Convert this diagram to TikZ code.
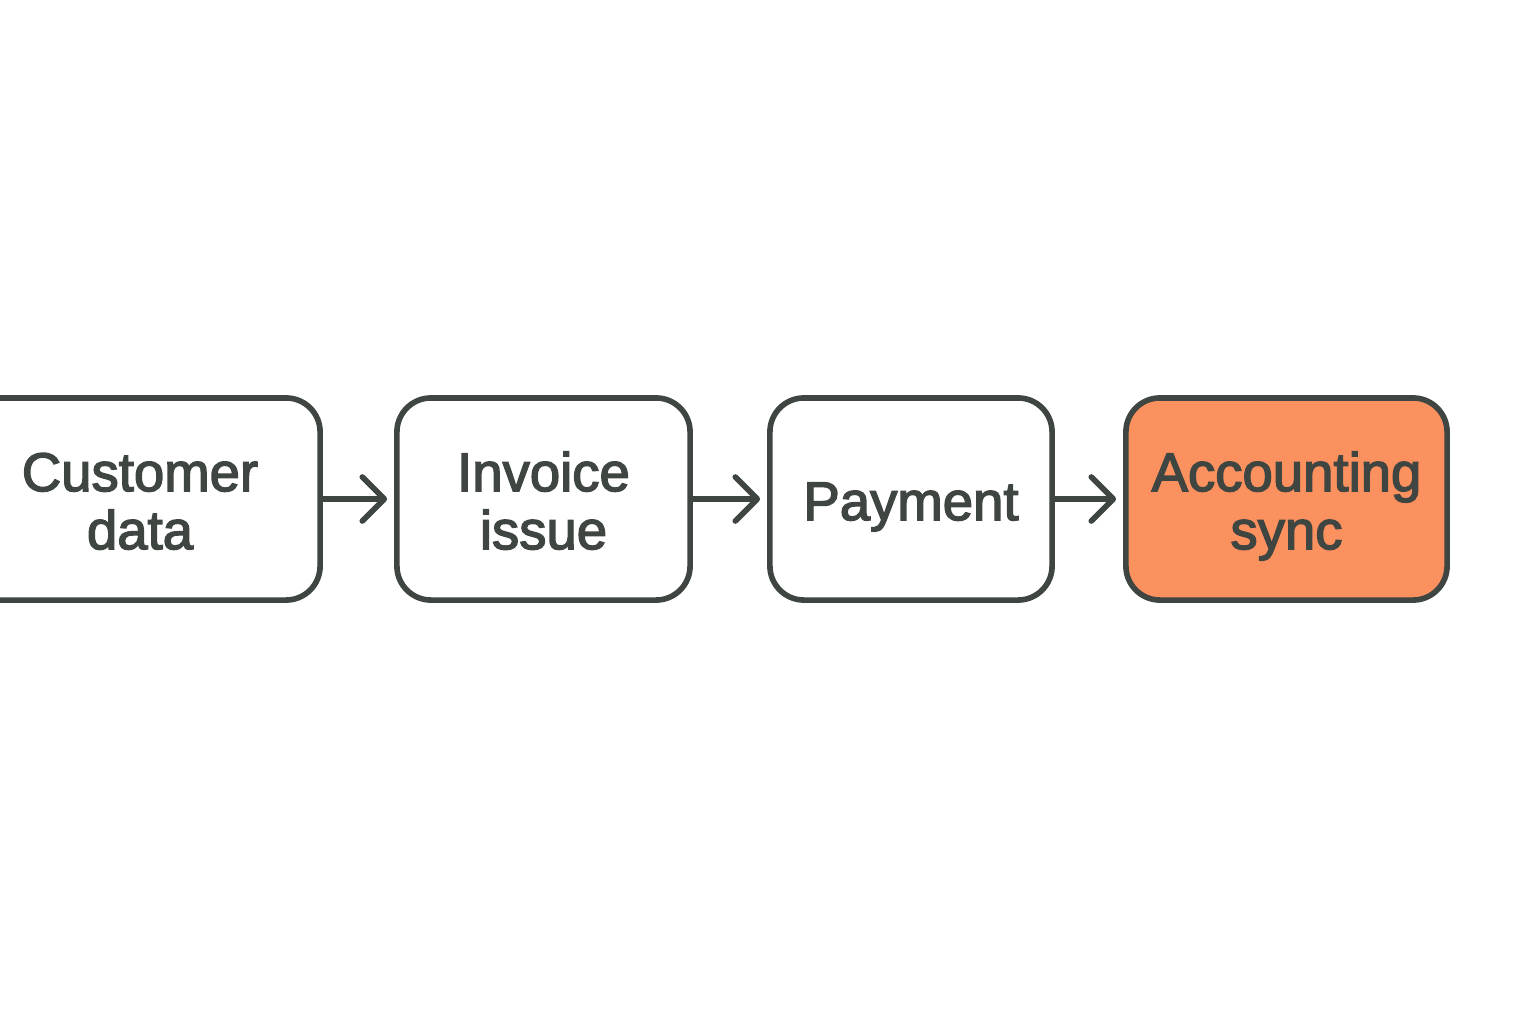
\documentclass[tikz,border=0pt]{standalone}
\usepackage{fontspec}
\setmainfont{Liberation Sans}[BoldFont={Liberation Sans},BoldFeatures={FakeBold=2.6}]
\usetikzlibrary{arrows.meta}
\definecolor{strokec}{HTML}{3F4540}
\definecolor{orangec}{HTML}{FC9160}
\newcommand\lnx[1]{\smash{#1}\rule{0pt}{12pt}}
\begin{document}
\begin{tikzpicture}[x=0.01cm,y=-0.01cm,
  stepbox/.style={draw=strokec, line width=1.6pt, rounded corners=0.34cm,
    minimum height=2.02cm, align=center, inner sep=0pt,
    text=strokec, font=\fontsize{15.5}{16.5}\selectfont\bfseries},
  arr/.style={draw=strokec, line width=1.6pt,
    -{Straight Barb[length=0.22cm,width=0.44cm,line cap=round,line join=round]},
    shorten >=0.07cm}]
\useasboundingbox (0,0) rectangle (1536,1024);
\clip (0,0) rectangle (1536,1024);
\fill[white] (0,0) rectangle (1536,1024);
\node[stepbox, minimum width=3.6cm] (c) at (140,499) {\lnx{Customer}\\\lnx{data}};
\node[stepbox, minimum width=2.93cm] (i) at (543.5,499) {\lnx{Invoice}\\\lnx{issue}};
\node[stepbox, minimum width=2.82cm] (p) at (911,499) {\lnx{Payment}};
\node[stepbox, minimum width=3.21cm, fill=orangec] (a) at (1286.5,499) {\lnx{Accounting}\\\lnx{sync}};
\draw[arr] (c) -- (i);
\draw[arr] (i) -- (p);
\draw[arr] (p) -- (a);
\end{tikzpicture}
\end{document}
